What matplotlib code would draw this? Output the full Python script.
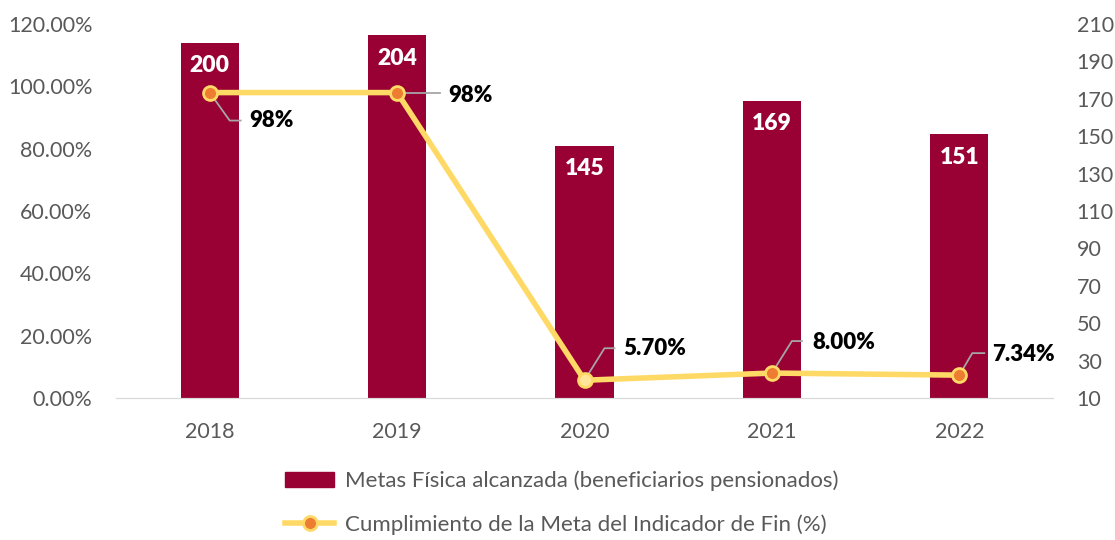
import matplotlib
matplotlib.use("Agg")
import matplotlib.pyplot as plt
from matplotlib.lines import Line2D
from matplotlib.patches import Patch
from matplotlib.transforms import IdentityTransform

years = ["2018", "2019", "2020", "2021", "2022"]
beneficiarios = [200, 204, 145, 169, 151]
cumplimiento = [98.0, 98.0, 5.70, 8.00, 7.34]
cumpl_labels = ["98%", "98%", "5.70%", "8.00%", "7.34%"]
left_ticks = [0, 20, 40, 60, 80, 100, 120]
right_ticks = [10, 30, 50, 70, 90, 110, 130, 150, 170, 190, 210]

bar_color = "#990033"
line_color = "#FFD966"
marker_color = "#ED7D31"
text_gray = "#595959"

plt.rcParams['font.family'] = ['Lato', 'DejaVu Sans']

W, H = 1115, 540
fig = plt.figure(figsize=(W / 100, H / 100), dpi=100)
ax = fig.add_axes([116 / W, 1 - 398 / H, (1053 - 116) / W, (398 - 24) / H])
ax2 = ax.twinx()

x = list(range(len(years)))
ax2.bar(x, [b - 10 for b in beneficiarios], bottom=10, width=0.31, color=bar_color, zorder=2)
ax2.set_ylim(10, 210)
ax2.set_yticks(right_ticks)
ax2.set_yticklabels([str(t) for t in right_ticks], fontsize=15.5, color=text_gray)

for xi, b in zip(x, beneficiarios):
    ax2.annotate(str(b), (xi, b), xytext=(0, -23), textcoords="offset pixels",
                 ha="center", va="center", color="white", fontsize=16.5, fontweight="heavy")

ax.set_zorder(ax2.get_zorder() + 1)
ax.patch.set_visible(False)
ax.set_ylim(0, 120)
ax.set_xlim(-0.5, 4.5)
ax.plot(x, cumplimiento, color=line_color, lw=4, zorder=3, solid_capstyle="round")
mcolors = [marker_color, marker_color, "#FFE699", marker_color, marker_color]

ax.set_yticks(left_ticks)
ax.set_yticklabels([f"{t:.2f}%" for t in left_ticks], fontsize=15.5, color=text_gray)
ax.set_xticks(x)
ax.set_xticklabels(years, fontsize=15.5, color=text_gray)

# leader geometry in pixel offsets from the point (x right, y up): elbow, end, text start
leaders = [
    ((20, -28), (31, -28), (40, -28)),
    ((0, 0), (43, 0), (51, -3)),
    ((20, 32), (30, 32), (39, 32)),
    ((20, 32), (30, 32), (40, 31)),
    ((13, 22), (25, 22), (33, 21)),
]
for xi, c, lab, mc, (el, en, tx) in zip(x, cumplimiento, cumpl_labels, mcolors, leaders):
    px, py = ax.transData.transform((xi, c))
    ax.add_line(Line2D([px, px + el[0], px + en[0]], [py, py + el[1], py + en[1]],
                       transform=IdentityTransform(), color="#A6A6A6", lw=1.3, zorder=3.5))
    ax.plot([xi], [c], marker="o", markersize=10, markerfacecolor=mc,
            markeredgecolor=line_color, markeredgewidth=2, zorder=4)
    ax.annotate(lab, (xi, c), xytext=tx, textcoords="offset pixels",
                ha="left", va="center", fontsize=16, fontweight="heavy", color="black", zorder=5)

for a in (ax, ax2):
    for s in ("top", "left", "right"):
        a.spines[s].set_visible(False)
    a.spines["bottom"].set_color("#D9D9D9")
    a.tick_params(length=0)
ax.tick_params(axis="x", pad=17)
ax.tick_params(axis="y", pad=17)
ax2.tick_params(axis="y", pad=17)

handles = [Patch(facecolor=bar_color, edgecolor=bar_color),
           Line2D([0], [0], color=line_color, lw=4, marker="o", markersize=10,
                  markerfacecolor=marker_color, markeredgecolor=line_color, markeredgewidth=2)]
labels = ["Metas Física alcanzada (beneficiarios pensionados)",
          "Cumplimiento de la Meta del Indicador de Fin (%)"]
fig.legend(handles, labels, loc="center", bbox_to_anchor=(562 / W, 1 - 503 / H),
           ncol=1, frameon=False, fontsize=16, labelcolor=text_gray,
           handlelength=2.2, handletextpad=0.5, labelspacing=1.05)

fig.savefig("out.png", dpi=100)
